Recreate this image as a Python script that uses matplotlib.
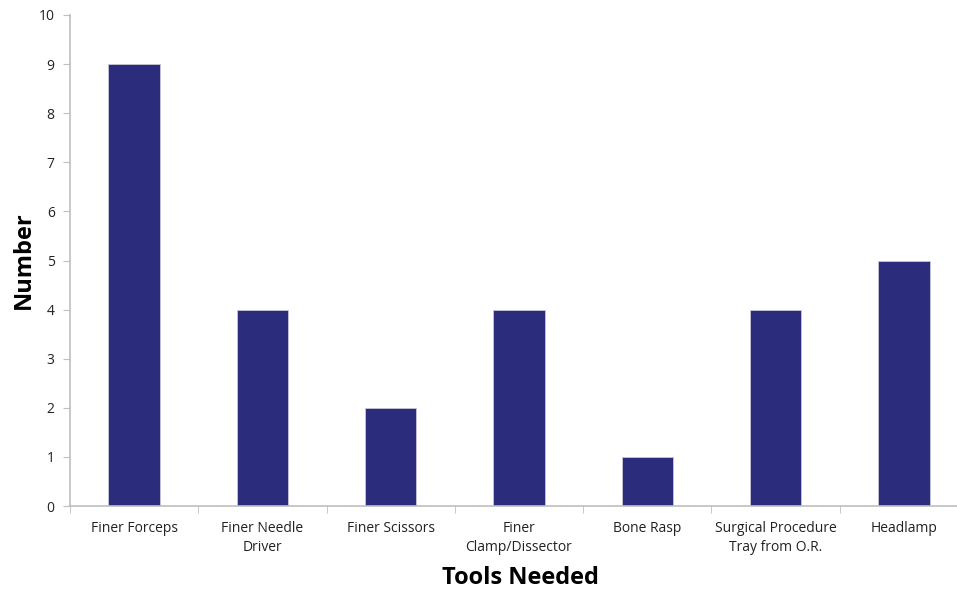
import numpy as np
import matplotlib.pyplot as plt

# Tools requested and counts
tools = ['Finer Forceps', 'Finer Needle\nDriver', 'Finer Scissors', 'Finer\nClamp/Dissector',
         'Bone Rasp', 'Surgical Procedure\nTray from O.R.', 'Headlamp']
counts = [9, 4, 2, 4, 1, 4, 5]

plt.rcParams['font.family'] = ['Open Sans', 'DejaVu Sans']

fig = plt.figure(figsize=(9.57, 5.93), dpi=100)
ax = fig.add_axes([70 / 957, 87 / 593, 898 / 957, 491 / 593])

x = np.arange(len(tools))
ax.bar(x, counts, width=0.4, color='#2B2D7C', edgecolor='#C8C8D8', linewidth=0.6)

ax.set_xlim(-0.5, len(tools) - 0.5)
ax.set_ylim(0, 10)
ax.set_yticks(range(0, 11))

# category labels centred, tick marks between categories
ax.set_xticks(x)
ax.set_xticklabels(tools, fontsize=10, color='#222222', linespacing=1.3)
ax.tick_params(axis='x', length=0, pad=11)
ax.set_xticks(np.arange(-0.5, len(tools) + 0.5), minor=True)
ax.tick_params(axis='x', which='minor', length=5, color='#BFBFBF', direction='out')
ax.tick_params(axis='y', length=5, color='#BFBFBF', labelsize=10, labelcolor='#222222', pad=6)

for side in ['top', 'right']:
    ax.spines[side].set_visible(False)
for side in ['left', 'bottom']:
    ax.spines[side].set_color('#BFBFBF')
    ax.spines[side].set_linewidth(1.2)

ax.set_ylabel('Number', fontsize=17, fontweight='bold')
ax.yaxis.set_label_coords(-34 / 898, 0.5)
ax.set_xlabel('Tools Needed', fontsize=17, fontweight='bold')
ax.xaxis.set_label_coords(450 / 898, -0.123)

fig.savefig('out.png', dpi=100)
